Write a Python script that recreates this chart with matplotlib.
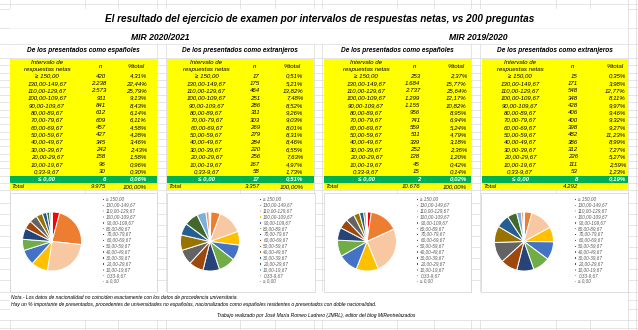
import matplotlib
matplotlib.use("Agg")
import matplotlib.pyplot as plt
from matplotlib.patches import Rectangle

plt.rcParams['font.family'] = ['Liberation Sans', 'DejaVu Sans']

# ---------------- data ----------------
intervals = ["≥ 150,00", "130,00-149,67", "110,00-129,67", "100,00-109,67", "90,00-109,67",
             "80,00-89,67", "70,00-79,67", "60,00-69,67", "50,00-59,67", "40,00-49,67",
             "30,00-39,67", "20,00-29,67", "10,00-19,67", "0,33-9,67", "≤ 0,00"]

n_esp_2021 = [420, 2238, 2573, 911, 841, 612, 609, 457, 427, 345, 242, 158, 96, 30, 6]
pct_esp_2021 = [4.31, 22.44, 25.79, 9.13, 8.43, 6.14, 6.11, 4.58, 4.28, 3.46, 2.43, 1.58, 0.96, 0.30, 0.06]
tot_esp_2021 = ("9.975", "100,00%")

n_ext_2021 = [17, 175, 464, 251, 286, 311, 303, 269, 279, 284, 220, 256, 167, 58, 17]
pct_ext_2021 = [0.51, 5.21, 13.82, 7.48, 8.52, 9.26, 9.03, 8.01, 8.31, 8.46, 6.55, 7.63, 4.97, 1.73, 0.51]
tot_ext_2021 = ("3.357", "100,00%")

n_esp_1920 = [253, 1684, 2737, 1299, 1155, 956, 741, 559, 511, 339, 252, 128, 45, 15, 2]
pct_esp_1920 = [2.37, 15.77, 25.64, 12.17, 10.82, 8.95, 6.94, 5.24, 4.79, 3.18, 2.36, 1.20, 0.42, 0.14, 0.02]
tot_esp_1920 = ("10.676", "100,00%")

n_ext_1920 = [15, 171, 548, 348, 428, 406, 400, 398, 482, 386, 312, 226, 111, 53, 8]
pct_ext_1920 = [0.35, 3.98, 12.77, 8.11, 9.97, 9.46, 9.32, 9.27, 11.23, 8.99, 7.27, 5.27, 2.59, 1.23, 0.19]
tot_ext_1920 = ("4.292", "")

slice_colors = ["#FF0000", "#ED7D31", "#F8C8A2", "#FFC000", "#4472C4", "#70AD47", "#264478",
                "#9E480E", "#636363", "#997300", "#255E91", "#43682B", "#7CAFDD", "#F1975A", "#B7B7B7"]

title = "El resultado del ejercicio de examen por intervalos de respuestas netas, vs 200 preguntas"
sub_esp = "De los presentados como españoles"
sub_ext = "De los presentados como extranjeros"


def fmt_n(v):
    return f"{v:,}".replace(",", ".")


def fmt_p(v):
    return f"{v:.2f}%".replace(".", ",")


# ---------------- figure ----------------
W, H = 638, 330
fig = plt.figure(figsize=(W / 100, H / 100), dpi=100)
ax = fig.add_axes([0, 0, 1, 1])
ax.set_xlim(0, W)
ax.set_ylim(H, 0)
ax.axis("off")

grid_c = "#DADADA"
# spreadsheet gridlines
vlines = [10, 85, 118, 157, 166, 240, 275, 314, 322, 397, 434, 471, 480, 556, 590, 628, 636]
for x in vlines:
    ax.plot([x, x], [0, H], color=grid_c, lw=0.5, zorder=0)
hrows = [4, 9, 28, 44, 58] + [58 + 7.36 * k for k in range(1, 19)] + \
        [203, 214, 225, 236, 247, 258, 269, 280, 292, 300, 309, 320, 328]
for y in hrows:
    ax.plot([0, W], [y, y], color=grid_c, lw=0.5, zorder=0)

# white merged blocks
ax.add_patch(Rectangle((10, 9), 618, 35, facecolor="white", edgecolor="none", zorder=1))
ax.plot([10, 628], [28, 28], color="#EDEDED", lw=0.4, zorder=1)
ax.add_patch(Rectangle((10, 292), 618, 28, facecolor="white", edgecolor="none", zorder=1))

ax.text(320, 19.5, title, ha="center", va="center", fontsize=7.2,
        fontweight="bold", style="italic", color="black", zorder=5)
ax.text(160, 37, "MIR 2020/2021", ha="center", va="center", fontsize=6.2,
        fontweight="bold", style="italic", zorder=5)
ax.text(478, 37, "MIR 2019/2020", ha="center", va="center", fontsize=6.2,
        fontweight="bold", style="italic", zorder=5)

tables = [
    # x0, x1, interval centre, n right, pct right, subtitle, n, pct, totals
    (10, 157, 47, 106, 147, sub_esp, n_esp_2021, pct_esp_2021, tot_esp_2021),
    (166.5, 314, 206.5, 260, 303.5, sub_ext, n_ext_2021, pct_ext_2021, tot_ext_2021),
    (324, 471, 366, 420, 467, sub_esp, n_esp_1920, pct_esp_1920, tot_esp_1920),
    (482, 628, 520, 578, 626, sub_ext, n_ext_1920, pct_ext_1920, tot_ext_1920),
]

fs = 4.4
row0 = 76.0
dy = 7.36
for x0, x1, cx, nx, px, sub, nvals, pvals, tot in tables:
    # subtitle cell
    ax.add_patch(Rectangle((x0, 44.5), x1 - x0, 13.5, facecolor="white", edgecolor="none", zorder=1))
    ax.text((x0 + x1) / 2, 51, sub, ha="center", va="center", fontsize=4.7,
            fontweight="bold", style="italic", zorder=5)
    # yellow body
    ax.add_patch(Rectangle((x0, 59), x1 - x0, 130.5, facecolor="#FFFF00", edgecolor="none", zorder=2))
    # header
    ax.text(cx, 62.7, "Intervalo de", ha="center", va="center", fontsize=fs, style="italic", zorder=5)
    ax.text(cx, 69, "respuestas netas", ha="center", va="center", fontsize=fs, style="italic", zorder=5)
    ax.text(nx - 5, 66, "n", ha="center", va="center", fontsize=fs, style="italic", zorder=5)
    ax.text(px - 11, 66, "%total", ha="center", va="center", fontsize=fs, style="italic", zorder=5)
    for k, (lab, nv, pv) in enumerate(zip(intervals, nvals, pvals)):
        y = row0 + k * dy
        if k == len(intervals) - 1:
            ax.add_patch(Rectangle((x0, y - 3.5), x1 - x0, 7.0, facecolor="#00B050",
                                   edgecolor="none", zorder=3))
            kw = dict(color="white", fontweight="bold")
        else:
            kw = dict(color="black")
        ax.text(cx, y, lab, ha="center", va="center", fontsize=fs, style="italic", zorder=5, **kw)
        ax.text(nx, y, fmt_n(nv), ha="right", va="center", fontsize=fs, style="italic", zorder=5, **kw)
        ax.text(px, y, fmt_p(pv), ha="right", va="center", fontsize=fs, style="italic", zorder=5, **kw)
    yt = row0 + len(intervals) * dy
    ax.text(x0 + 1.5, yt, "Total", ha="left", va="center", fontsize=fs, style="italic", zorder=5)
    ax.text(nx, yt, tot[0], ha="right", va="center", fontsize=fs, style="italic", zorder=5)
    if tot[1]:
        ax.text(px, yt, tot[1], ha="right", va="center", fontsize=fs, style="italic", zorder=5)

# ---------------- pies ----------------
panels = [
    # panel x0, x1, pie centre x, legend x, values
    (10, 157, 52, 102, n_esp_2021),
    (167, 315, 210, 259, n_ext_2021),
    (324, 471, 367, 416, n_esp_1920),
    (481, 628, 524, 574, n_ext_1920),
]
py0, py1 = 193, 292
pcy = 241.5
pr = 31
for x0, x1, pcx, lx, vals in panels:
    ax.add_patch(Rectangle((x0, py0), x1 - x0, py1 - py0, facecolor="white",
                           edgecolor="#D0D0D0", lw=0.5, zorder=1))
    pax = fig.add_axes([(pcx - pr) / W, 1 - (pcy + pr) / H, 2 * pr / W, 2 * pr / H])
    wedges, _ = pax.pie(vals, colors=slice_colors, startangle=90, counterclock=False,
                        wedgeprops=dict(edgecolor="white", linewidth=0.7))
    pax.set_aspect("equal")
    pax.set_xlim(-1.05, 1.05)
    pax.set_ylim(-1.05, 1.05)
    pax.axis("off")
    leg = pax.legend(wedges, intervals, loc="upper left",
                     bbox_to_anchor=(lx / W, 1 - 196.5 / H), bbox_transform=fig.transFigure,
                     frameon=False, fontsize=3.3, handlelength=0.45, handleheight=0.45,
                     handletextpad=0.5, labelspacing=0.19, borderpad=0, borderaxespad=0)
    for t in leg.get_texts():
        t.set_color("#595959")
        t.set_style("italic")

# ---------------- notes ----------------
ax.text(11, 297, "Nota.- Los datos de nacionalidad no coinciden exactamente con los datos de procedencia universitaria.",
        ha="left", va="center", fontsize=3.6, style="italic", zorder=5)
ax.text(11, 304.5, "Hay un % importante de presentados, procedentes de universidades no españolas, nacionalizados como españoles residentes o presentados con doble nacionalidad.",
        ha="left", va="center", fontsize=3.6, style="italic", zorder=5)
ax.text(316, 315, "Trabajo realizado por José María Romeo Ladrero (JMRL), editor del blog MIRentrelazados",
        ha="center", va="center", fontsize=3.6, style="italic", zorder=5)

fig.savefig("out.png", dpi=100)
